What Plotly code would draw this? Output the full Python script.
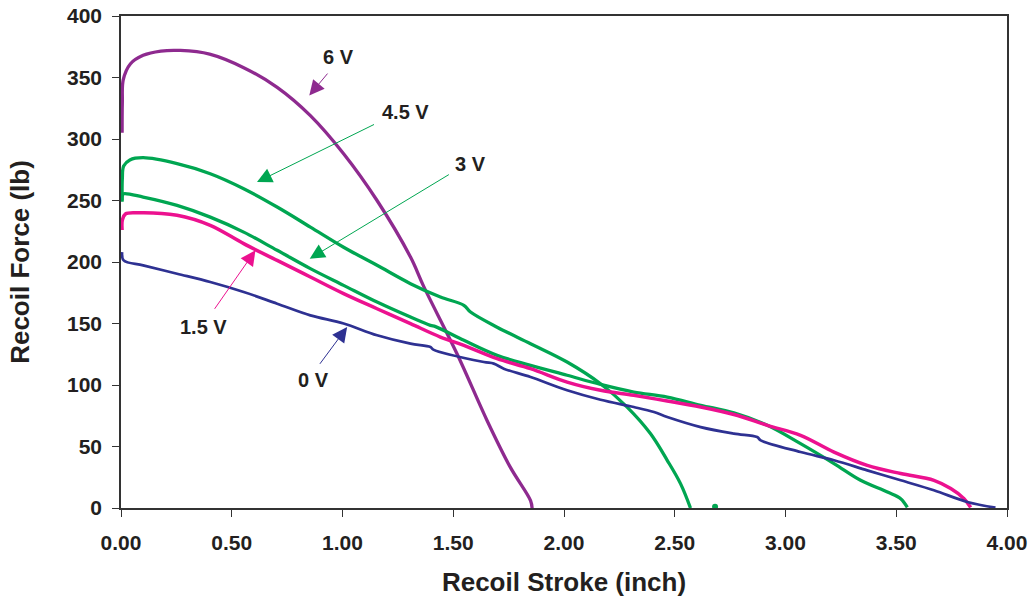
import plotly.graph_objects as go

# ---------------- data ----------------
stroke_6v = [0.005, 0.006, 0.01, 0.042, 0.10, 0.18, 0.268, 0.40, 0.554, 0.705, 0.855,
             1.005, 1.156, 1.307, 1.367, 1.518, 1.653, 1.758, 1.849, 1.856]
force_6v = [305, 330, 348, 361, 368, 371.5, 372, 369, 358, 342, 319,
            288, 250, 204, 180, 125, 71, 33, 6, 0]

stroke_45v = [0.005, 0.006, 0.012, 0.04, 0.10, 0.253, 0.403, 0.554, 0.705, 0.855, 1.005,
              1.156, 1.307, 1.442, 1.548, 1.578, 1.698, 1.849, 2.014, 2.165, 2.285,
              2.39, 2.466, 2.526, 2.571]
force_45v = [250, 268, 278, 283, 284.8, 280, 271.8, 259.6, 244.7, 228.4, 212,
             197.3, 182.4, 171.5, 164.8, 159.3, 147, 133.6, 118.7, 101, 82,
             60.5, 38.8, 19.8, 0]
stroke_45v_dot = [2.682]
force_45v_dot = [1.0]

stroke_3v = [0.005, 0.006, 0.012, 0.10, 0.253, 0.403, 0.554, 0.705, 0.855, 1.005, 1.156,
             1.307, 1.397, 1.42, 1.548, 1.698, 1.849, 2.014, 2.165, 2.315, 2.466,
             2.617, 2.767, 2.918, 3.068, 3.219, 3.339, 3.46, 3.52, 3.55]
force_3v = [249, 254, 255.5, 252.8, 246, 236.5, 224.3, 209.5, 194.6, 181, 167.4,
            155.2, 148.5, 147.5, 136.3, 124.1, 116, 107.9, 100.5, 94.3, 90.2,
            83.5, 77.3, 67.2, 52.3, 36.1, 22.5, 13, 7.6, 0.5]

stroke_15v = [0.005, 0.006, 0.02, 0.072, 0.253, 0.403, 0.554, 0.705, 0.855, 1.005, 1.156,
              1.307, 1.442, 1.548, 1.698, 1.849, 2.014, 2.165, 2.315, 2.466, 2.617,
              2.767, 2.918, 3.068, 3.219, 3.369, 3.52, 3.67, 3.746, 3.806, 3.836]
force_15v = [226, 234, 239, 240, 238, 229.8, 214.9, 201.3, 187.8, 174.3, 162,
             149.9, 139, 132.2, 121.4, 113.3, 102.4, 95.7, 91.6, 87, 82.1,
             76, 67.2, 59.1, 45.5, 34.7, 28, 22.5, 15.8, 7.6, 0.5]

stroke_0v = [0.005, 0.012, 0.10, 0.253, 0.403, 0.554, 0.705, 0.855, 1.005, 1.156, 1.307,
             1.397, 1.41, 1.638, 1.683, 1.728, 1.849, 2.014, 2.165, 2.315, 2.406,
             2.466, 2.617, 2.767, 2.872, 2.888, 3.068, 3.219, 3.369, 3.52, 3.67,
             3.821, 3.948]
force_0v = [208, 201.3, 197.3, 190.5, 183.7, 175.6, 166.1, 156.6, 150, 140.4, 133.6,
            130.9, 128.8, 118.7, 117.4, 113.3, 106.5, 95.7, 88, 82.1, 78,
            74, 65.8, 60.5, 57.7, 55, 45.5, 38.8, 30.6, 22.5, 14.4,
            4.9, 0.3]

labels = ["6 V", "4.5 V", "3 V", "1.5 V", "0 V"]
label_pos = [(0.983, 366.6), (1.284, 321.9), (1.578, 280.0), (0.373, 147.1), (0.870, 103.8)]
arrow_tail = [(0.938, 354.4), (1.149, 312.4), (1.487, 271.8), (0.418, 160.7), (0.893, 116.0)]
arrow_tip = [(0.850, 335.4), (0.614, 265.0), (0.852, 202.7), (0.607, 209.5), (1.021, 147.1)]

x_ticks = [0, 0.5, 1.0, 1.5, 2.0, 2.5, 3.0, 3.5, 4.0]
y_ticks = [0, 50, 100, 150, 200, 250, 300, 350, 400]

# ---------------- styles ----------------
PURPLE = "#8E2A8F"
GREEN = "#00A651"
PINK = "#EC118F"
BLUE = "#2E3192"
TXT = "#231F20"
FONT = "Liberation Sans, Arial, Helvetica, sans-serif"

series = [
    (stroke_6v, force_6v, PURPLE, 3.3),
    (stroke_45v, force_45v, GREEN, 3.3),
    (stroke_3v, force_3v, GREEN, 3.3),
    (stroke_15v, force_15v, PINK, 3.5),
    (stroke_0v, force_0v, BLUE, 2.7),
]
arrow_colors = [PURPLE, GREEN, GREEN, PINK, BLUE]

fig = go.Figure()
for xs, ys, col, w in series:
    fig.add_trace(go.Scatter(x=xs, y=ys, mode="lines",
                             line=dict(color=col, width=w, shape="spline", smoothing=1.0),
                             showlegend=False, hoverinfo="skip"))
fig.add_trace(go.Scatter(x=stroke_45v_dot, y=force_45v_dot, mode="markers",
                         marker=dict(color=GREEN, size=6),
                         showlegend=False, hoverinfo="skip", cliponaxis=False))

annotations = []
for lab, (tx, ty), (ax_, ay_), (hx, hy), col in zip(labels, label_pos, arrow_tail, arrow_tip, arrow_colors):
    annotations.append(dict(x=hx, y=hy, ax=ax_, ay=ay_, xref="x", yref="y", axref="x", ayref="y",
                            text="", showarrow=True, arrowhead=2, arrowsize=3, arrowwidth=1,
                            arrowcolor=col))
    annotations.append(dict(x=tx, y=ty, xref="x", yref="y", text=lab, showarrow=False,
                            font=dict(family=FONT, size=20, color=TXT, weight="bold")))

fig.update_layout(
    width=1030, height=598,
    margin=dict(l=121, r=23, t=16, b=90, autoexpand=False),
    paper_bgcolor="white", plot_bgcolor="white",
    annotations=annotations,
    font=dict(family=FONT, color=TXT),
)
fig.update_xaxes(
    range=[0, 4], tickvals=x_ticks, tickformat=".2f", automargin=False,
    showgrid=False, zeroline=False, ticklabeloverflow="allow",
    showline=True, linecolor="#333333", linewidth=1.5, mirror=True,
    ticks="outside", ticklen=7, tickcolor="#333333", tickwidth=1.2,
    tickfont=dict(family=FONT, size=21, color=TXT, weight="bold"),
    ticklabelstandoff=8,
    title=dict(text="Recoil Stroke (inch)", standoff=20,
               font=dict(family=FONT, size=26, color=TXT, weight="bold")),
)
fig.update_yaxes(
    range=[0, 400], tickvals=y_ticks, automargin=False,
    showgrid=False, zeroline=False, ticklabeloverflow="allow",
    showline=True, linecolor="#333333", linewidth=1.5, mirror=True,
    ticks="outside", ticklen=7, tickcolor="#333333", tickwidth=1.2,
    tickfont=dict(family=FONT, size=21, color=TXT, weight="bold"),
    ticklabelstandoff=6,
    title=dict(text="Recoil Force (lb)", standoff=30,
               font=dict(family=FONT, size=26, color=TXT, weight="bold")),
)

# remove the browser's default 8px page margin so the figure fills the window exactly
fig.write_html("out.html", config={"displayModeBar": False},
               post_script="document.body.style.margin='0';")
